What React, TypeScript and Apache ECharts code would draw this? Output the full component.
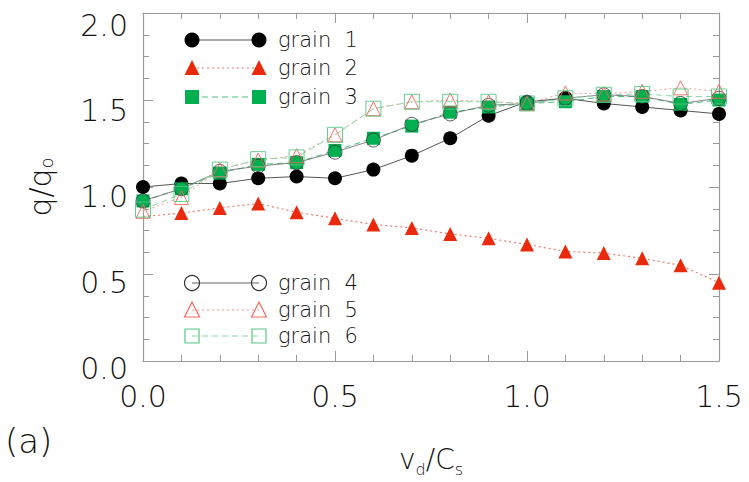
import React, { useEffect, useRef } from "react";
import * as echarts from "echarts";

const xVals = [0, 0.1, 0.2, 0.3, 0.4, 0.5, 0.6, 0.7, 0.8, 0.9, 1.0, 1.1, 1.2, 1.3, 1.4, 1.5];
const grain1 = [1.0, 1.02, 1.02, 1.05, 1.06, 1.05, 1.1, 1.18, 1.28, 1.41, 1.49, 1.51, 1.48, 1.46, 1.44, 1.42];
const grain2 = [0.83, 0.85, 0.88, 0.905, 0.855, 0.82, 0.785, 0.765, 0.73, 0.705, 0.67, 0.63, 0.62, 0.59, 0.55, 0.45];
const grain3 = [0.92, 0.99, 1.08, 1.13, 1.14, 1.21, 1.28, 1.35, 1.43, 1.46, 1.48, 1.49, 1.52, 1.52, 1.475, 1.5];
const grain4 = [0.92, 0.99, 1.09, 1.12, 1.14, 1.2, 1.27, 1.36, 1.42, 1.47, 1.48, 1.51, 1.53, 1.52, 1.48, 1.51];
const grain5 = [0.86, 0.94, 1.1, 1.155, 1.18, 1.3, 1.45, 1.49, 1.5, 1.49, 1.48, 1.54, 1.535, 1.55, 1.57, 1.55];
const grain6 = [0.87, 0.96, 1.1, 1.16, 1.17, 1.3, 1.45, 1.49, 1.49, 1.49, 1.48, 1.51, 1.53, 1.535, 1.52, 1.52];
const seriesNames = ["grain  1", "grain  2", "grain  3", "grain  4", "grain  5", "grain  6"];

const FONT = "'DejaVu Sans', sans-serif";
const TEXT = "#111";
const RED = "#ea2a0c";
const GREEN = "#00b050";
const RED_LIGHT = "#f2685a";
const GREEN_LIGHT = "#55c783";

type Spec = {
  name: string;
  data: number[];
  symbol: string;
  size: number;
  fill: string;
  border: string;
  borderWidth: number;
  lineColor: string;
  lineType: any;
  lineWidth: number;
  hideFirst?: boolean;
};

function pairs(s: Spec) {
  return xVals.map((x, i) =>
    i === 0 && s.hideFirst ? { value: [x, s.data[i]], symbol: "none" } : [x, s.data[i]]
  );
}

const specs: Spec[] = [
  { name: seriesNames[0], data: grain1, symbol: "circle", size: 14, fill: "#000", border: "#000", borderWidth: 0, lineColor: "#555", lineType: "solid", lineWidth: 1 },
  { name: seriesNames[1], data: grain2, symbol: "triangle", size: 14, fill: RED, border: RED, borderWidth: 0, lineColor: "#f27a70", lineType: [2, 3], lineWidth: 1.2, hideFirst: true },
  { name: seriesNames[2], data: grain3, symbol: "rect", size: 13, fill: GREEN, border: GREEN, borderWidth: 0, lineColor: "#4cc27a", lineType: [6, 4], lineWidth: 1 },
  { name: seriesNames[3], data: grain4, symbol: "circle", size: 14, fill: "none", border: "#333", borderWidth: 0.8, lineColor: "#666", lineType: "solid", lineWidth: 0.8 },
  { name: seriesNames[4], data: grain5, symbol: "triangle", size: 14, fill: "none", border: RED_LIGHT, borderWidth: 0.9, lineColor: "#f49a90", lineType: [2, 3], lineWidth: 1 },
  { name: seriesNames[5], data: grain6, symbol: "rect", size: 15, fill: "none", border: GREEN_LIGHT, borderWidth: 0.9, lineColor: "#8ad8a8", lineType: [6, 4], lineWidth: 1 },
];

function legendRow(spec: Spec, y: number, open: boolean) {
  const x1 = 192;
  const x2 = 259;
  const els: any[] = [];
  const dash = Array.isArray(spec.lineType) ? spec.lineType : null;
  els.push({
    type: "line",
    shape: { x1, y1: y, x2, y2: y },
    style: { stroke: spec.lineColor, lineWidth: 1.2, lineDash: dash },
    z: 10,
  });
  [x1, x2].forEach((cx) => {
    const fill = open ? "transparent" : spec.fill;
    const stroke = open ? spec.border : "none";
    const lw = open ? 1.2 : 0;
    if (spec.symbol === "circle") {
      els.push({ type: "circle", shape: { cx, cy: y, r: 7.5 }, style: { fill, stroke, lineWidth: lw }, z: 11 });
    } else if (spec.symbol === "triangle") {
      els.push({
        type: "polygon",
        shape: { points: [[cx, y - 8], [cx + 7.5, y + 7], [cx - 7.5, y + 7]] },
        style: { fill, stroke, lineWidth: lw },
        z: 11,
      });
    } else {
      els.push({ type: "rect", shape: { x: cx - 7, y: y - 7, width: 14, height: 14 }, style: { fill, stroke, lineWidth: lw }, z: 11 });
    }
  });
  els.push({
    type: "text",
    x: 278,
    y,
    style: { text: spec.name, font: `300 21px ${FONT}`, fill: TEXT, verticalAlign: "middle" },
    z: 11,
  });
  return els;
}

export default function App() {
  const ref = useRef<HTMLDivElement>(null);
  useEffect(() => {
    if (!ref.current) return;
    const chart = echarts.init(ref.current, undefined, { renderer: "svg" });
    const axisGray = "#9a9a9a";
    const tickCommon = {
      axisLine: { show: true, onZero: false, lineStyle: { color: axisGray, width: 1.2 } },
      axisTick: { show: true, inside: true, length: 10, lineStyle: { color: axisGray } },
      minorTick: { show: true, length: 6, lineStyle: { color: axisGray } },
      splitLine: { show: false },
      minorSplitLine: { show: false },
    };
    const option: any = {
      animation: false,
      backgroundColor: "#fff",
      grid: [
        { left: 143, right: 30, top: 13, bottom: 104, show: false },
        { left: 143, right: 30, top: 25, bottom: 114, show: false },
      ],
      xAxis: [
        {
          type: "value", gridIndex: 0, min: 0, max: 1.5, interval: 0.5, position: "bottom",
          ...tickCommon,
          minorTick: { ...tickCommon.minorTick, splitNumber: 5 },
          axisLabel: { show: true, fontSize: 30, fontFamily: FONT, fontWeight: 300, color: TEXT, margin: 20, formatter: (v: number) => v.toFixed(1) },
          name: "{n|v}{s|d}{n|/C}{s|s}",
          nameLocation: "middle",
          nameGap: 78,
          nameTextStyle: {
            rich: {
              n: { fontSize: 28, fontFamily: FONT, fontWeight: 300, color: TEXT, lineHeight: 34, verticalAlign: "bottom" },
              s: { fontSize: 16, fontFamily: FONT, fontWeight: 300, color: TEXT, lineHeight: 34, verticalAlign: "bottom", padding: [0, 0, -4, 0] },
            },
          },
        },
        {
          type: "value", gridIndex: 0, min: 0, max: 1.5, interval: 0.5, position: "top",
          ...tickCommon,
          minorTick: { ...tickCommon.minorTick, splitNumber: 5 },
          axisLabel: { show: false },
        },
        { type: "value", gridIndex: 1, min: 0, max: 1.5, show: false },
      ],
      yAxis: [
        {
          type: "value", gridIndex: 0, min: 0, max: 2, interval: 0.5, position: "left",
          ...tickCommon,
          minorTick: { ...tickCommon.minorTick, splitNumber: 4 },
          axisLabel: { show: false },
          name: "{n|q/q}{s|o}",
          nameLocation: "middle",
          nameRotate: 90,
          nameGap: 88,
          nameTextStyle: {
            rich: {
              n: { fontSize: 30, fontFamily: FONT, fontWeight: 300, color: TEXT, lineHeight: 36, verticalAlign: "bottom" },
              s: { fontSize: 18, fontFamily: FONT, fontWeight: 300, color: TEXT, lineHeight: 36, verticalAlign: "bottom" },
            },
          },
        },
        {
          type: "value", gridIndex: 0, min: 0, max: 2, interval: 0.5, position: "right",
          ...tickCommon,
          minorTick: { ...tickCommon.minorTick, splitNumber: 4 },
          axisLabel: { show: false },
        },
        {
          type: "value", gridIndex: 1, min: 0, max: 2, interval: 0.5, position: "left",
          axisLine: { show: false }, axisTick: { show: false }, splitLine: { show: false },
          axisLabel: { show: true, fontSize: 30, fontFamily: FONT, fontWeight: 300, color: TEXT, margin: 15, formatter: (v: number) => v.toFixed(1) },
        },
      ],
      series: specs.map((s) => ({
        type: "line",
        name: s.name,
        xAxisIndex: 0,
        yAxisIndex: 0,
        data: pairs(s),
        symbol: s.symbol,
        symbolSize: s.size,
        showSymbol: true,
        clip: true,
        lineStyle: { color: s.lineColor, type: s.lineType, width: s.lineWidth },
        itemStyle: { color: s.fill, borderColor: s.border, borderWidth: s.borderWidth },
        emphasis: { disabled: true },
      })),
      graphic: [
        ...legendRow(specs[0], 40, false),
        ...legendRow(specs[1], 68, false),
        ...legendRow(specs[2], 97, false),
        ...legendRow(specs[3], 283, true),
        ...legendRow(specs[4], 310, true),
        ...legendRow(specs[5], 336, true),
        {
          type: "text",
          x: 5,
          y: 441,
          style: { text: "(a)", font: `300 34px ${FONT}`, fill: TEXT, verticalAlign: "middle" },
        },
      ],
    };
    chart.setOption(option);
    return () => chart.dispose();
  }, []);
  return <div ref={ref} style={{ width: 749, height: 482, position: "absolute", left: 0, top: 0 }} />;
}
